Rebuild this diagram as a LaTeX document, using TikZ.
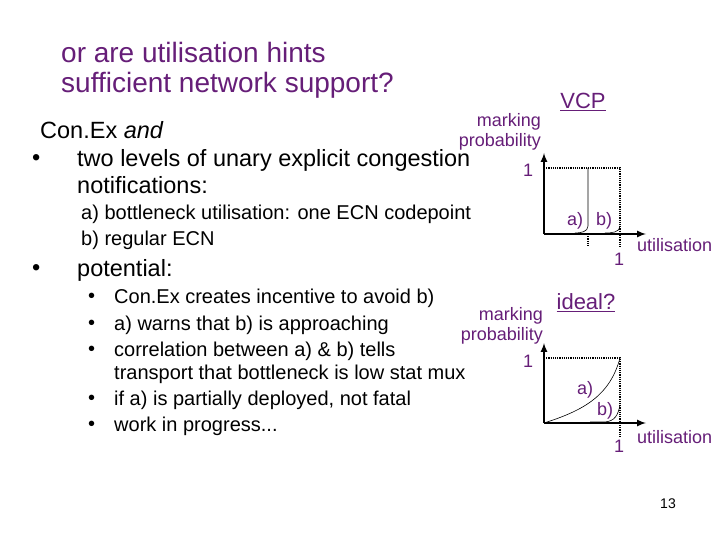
\documentclass[tikz,border=0pt]{standalone}
\usepackage{fontspec}
\setmainfont{Liberation Sans}
\definecolor{pur}{RGB}{102,30,120}
\begin{document}
\begin{tikzpicture}[x=1pt,y=-1pt,
  txt/.style={anchor=west,inner sep=0,font=\fontsize{23.5}{26}\selectfont},
  sub/.style={anchor=west,inner sep=0,font=\fontsize{20}{22}\selectfont},
  lab/.style={inner sep=0,text=pur,font=\fontsize{18}{20}\selectfont},
  ax/.style={line width=2pt,-latex},
  dot/.style={densely dotted,line width=1.2pt},
  thin/.style={line width=0.6pt}]
\useasboundingbox[fill=white] (0,0) rectangle (720,540);
\node[txt,text=pur,font=\fontsize{28}{33}\selectfont,anchor=west] (title) at (61,52) {or are utilisation hints};
\node[txt,text=pur,font=\fontsize{28}{33}\selectfont,anchor=west] (title2) at (61,85) {sufficient network support?};
\node[txt] (c1) at (40,130) {Con.Ex \textit{and}};
\node[txt] (b1) at (32,160) {•};
\node[txt] (c2) at (77,160) {two levels of unary explicit congestion};
\node[txt] (c3) at (77,185) {notifications:};
\node[sub] (s1) at (81,214) {a)\ bottleneck utilisation: one ECN codepoint};
\node[sub] (s2) at (81,240) {b)\ regular ECN};
\node[txt] (b2) at (32,270) {•};
\node[txt] (c4) at (77,270) {potential:};
\foreach \y/\t [count=\i] in {298/{Con.Ex creates incentive to avoid b)}, 325/{a) warns that b) is approaching}, 351/{correlation between a) \& b) tells}, 400/{if a) is partially deployed, not fatal}, 426/{work in progress{.}{.}{.}}}{
  \node[sub] (d\i) at (88,\y) {•};
  \node[sub] (e\i) at (114,\y) {\t};
}
\node[sub] (e6) at (114,374) {transport that bottleneck is low stat mux};
% VCP graph
\node[lab,font=\fontsize{22}{24}\selectfont] (vcp) at (583,102) {\underline{VCP}};
\node[lab,align=right,anchor=east] (mp1) at (541,132) {marking\\probability};
\coordinate (o1) at (544,234);
\coordinate (y1) at (544,153);
\coordinate (x1) at (646,234);
\draw[ax] (o1) -- (y1);
\draw[ax] (o1) -- (x1);
\node[lab] (one1) at (528,170) {1};
\coordinate (t1) at (620,168);
\draw[dot] (544,168) -- (t1) -- (620,247);
\draw[dot] (588,234) -- (588,247);
\draw[thin] (588,168) -- (588,226) to[out=-90,in=0] (575,233);
\draw[thin] (620,226) to[out=-90,in=0] (605,233);
\node[lab] (a1) at (575,221) {a)};
\node[lab] (bb1) at (604,221) {b)};
\node[lab,anchor=west] (u1) at (637,245) {utilisation};
\node[lab] (one1x) at (619,259) {1};
% ideal graph
\node[lab,font=\fontsize{22}{24}\selectfont] (ideal) at (586,303) {\underline{ideal?}};
\node[lab,align=right,anchor=east] (mp2) at (543,326) {marking\\probability};
\coordinate (o2) at (544,423);
\coordinate (y2) at (544,343);
\coordinate (x2) at (646,423);
\draw[ax] (o2) -- (y2);
\draw[ax] (o2) -- (x2);
\node[lab] (one2) at (528,361) {1};
\coordinate (t2) at (620,358);
\draw[dot] (544,358) -- (t2) -- (620,437);
\draw[thin] (o2) .. controls (585,410) and (610,395) .. (t2);
\draw[thin] (590,422) -- (605,422) .. controls (615,421) and (618,415) .. (620,405);
\node[lab] (a2) at (585,390) {a)};
\node[lab] (bb2) at (605,411) {b)};
\node[lab,anchor=west] (u2) at (637,437) {utilisation};
\node[lab] (one2x) at (619,446) {1};
\node[inner sep=0,font=\fontsize{14}{16}\selectfont] (pg) at (668,504) {13};
\end{tikzpicture}
\end{document}
